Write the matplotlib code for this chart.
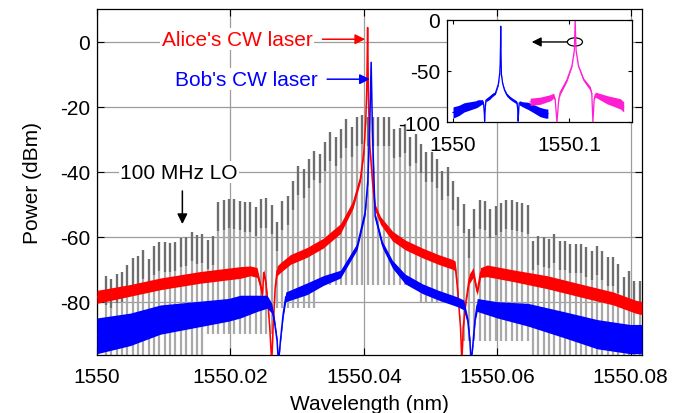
import numpy as np
import matplotlib
matplotlib.use('Agg')
import matplotlib.pyplot as plt
from matplotlib.patches import Ellipse

# ---- data ----
base_wl = 1550.0

# 100 MHz LO comb: line index n = -49..51 around the comb centre
comb_center = 0.04057
comb_spacing = 0.0008
comb_index = list(range(-49, 52))
comb_peak = [
    -72, -73, -71.5, -71, -68.7, -66.6, -66, -64, -66.8, -62.8,
    -61.5, -61.7, -62, -61.5, -60.4, -60, -58.5, -59.5, -59.2, -61,
    -59.7, -49.3, -48.8, -48.3, -48.5, -49, -49.4, -49.4, -50.9, -48.4,
    -48.2, -50.3, -55.5, -49, -47.5, -42.8, -38.2, -39.2, -36.1, -33.5,
    -34.5, -30.9, -27.8, -29.3, -26.9, -23.8, -26.3, -23, -22.5, -23,
    -23, -23.2, -23.2, -23.2, -26.9, -26.6, -25.3, -29.3, -28.3, -31.5,
    -34, -34, -36.1, -39.7, -38.6, -42.8, -47.8, -49.9, -57.6, -51.5,
    -48.6, -48.9, -51.5, -50.5, -49.6, -48.6, -48.8, -49.2, -49.6, -50.3,
    -61.2, -59.7, -60.2, -60.7, -59.2, -61.2, -61.2, -62.2, -62.2, -62.2,
    -63.3, -64.3, -62.8, -64.3, -66.3, -66.3, -68.4, -72.4, -70.4, -73.5,
    -73.5]
comb_floor = ([-97] * 19 + [-90] * 13 + [-82] * 8 + [-75] * 19 + [-80] * 8
              + [-92] * 13 + [-97] * 21)

# Alice's CW laser (red): wavelength offset, mid level, noise half-width
red_wl = [0.0000, 0.0050, 0.0095, 0.0155, 0.0215, 0.0230, 0.0240, 0.0245, 0.0248, 0.0250,
          0.0253, 0.0256, 0.0259, 0.0262, 0.0264, 0.0267, 0.0270, 0.0275, 0.0290, 0.0315,
          0.0339, 0.0365, 0.0384, 0.0395, 0.0400, 0.0403, 0.04045, 0.04057, 0.0407, 0.0409,
          0.0413, 0.0417, 0.0425, 0.0443, 0.0462, 0.0488, 0.0512, 0.0533, 0.0537, 0.0540,
          0.0542, 0.0545, 0.0547, 0.0549, 0.0553, 0.0558, 0.0564, 0.0570, 0.0575, 0.0585,
          0.0624, 0.0675, 0.0724, 0.0774, 0.0807, 0.0817]
red_mid = [-78.5, -76.5, -74.5, -72.5, -71.0, -70.5, -71.0, -75.0, -78.0, -71.0,
           -74.0, -80.0, -88.0, -99.0, -88.0, -76.0, -70.5, -69.5, -67.0, -64.8,
           -62.0, -57.5, -50.0, -42.0, -34.0, -24.0, -14.0, 4.4, -18.0, -32.0,
           -43.0, -51.0, -55.0, -59.8, -62.5, -65.0, -67.0, -68.5, -69.0, -75.0,
           -80.0, -88.0, -99.0, -88.0, -80.0, -73.0, -71.0, -77.0, -71.0, -70.5,
           -72.0, -74.0, -76.5, -79.0, -81.5, -82.0]
red_half = [2.0, 1.8, 1.8, 1.8, 1.8, 1.5, 1.5, 1.0, 1.0, 1.0,
            1.0, 0.8, 0.5, 0.5, 0.5, 0.8, 1.5, 1.5, 1.5, 1.5,
            1.5, 1.5, 1.2, 1.0, 0.8, 0.5, 0.3, 0.0, 0.3, 0.5,
            0.8, 1.0, 1.2, 1.5, 1.5, 1.5, 1.5, 1.5, 1.5, 1.0,
            0.8, 0.5, 0.5, 0.5, 0.8, 1.5, 1.5, 1.0, 1.5, 1.8,
            1.8, 2.0, 2.0, 2.0, 2.0, 2.0]

# Bob's CW laser (blue)
blue_wl = [0.0000, 0.0050, 0.0095, 0.0146, 0.0197, 0.0215, 0.0240, 0.0255, 0.0262, 0.0266,
           0.0270, 0.0272, 0.0275, 0.0279, 0.0283, 0.0315, 0.0339, 0.0365, 0.0390, 0.0402,
           0.0406, 0.0409, 0.0411, 0.0413, 0.0417, 0.0428, 0.0443, 0.0462, 0.0488, 0.0512,
           0.0540, 0.0550, 0.0556, 0.0559, 0.0561, 0.0564, 0.0567, 0.0570, 0.0600, 0.0646,
           0.0699, 0.0750, 0.0799, 0.0817]
blue_mid = [-90.5, -88.5, -85.5, -84.0, -82.5, -81.5, -80.5, -80.0, -82.0, -86.0,
            -92.0, -99.0, -92.0, -84.0, -78.5, -76.0, -73.5, -71.5, -63.0, -52.5,
            -43.0, -25.0, -6.3, -28.0, -53.7, -62.5, -68.5, -73.0, -76.0, -78.0,
            -80.0, -81.0, -86.0, -92.0, -99.0, -92.0, -85.0, -81.0, -82.5, -84.0,
            -87.0, -90.0, -91.5, -91.5]
blue_half = [5.5, 5.0, 4.5, 4.0, 3.5, 3.5, 2.5, 2.0, 1.5, 1.0,
             0.8, 0.5, 0.8, 1.0, 1.5, 1.8, 1.5, 1.2, 1.0, 1.0,
             0.7, 0.4, 0.0, 0.4, 1.0, 1.0, 1.2, 1.5, 1.5, 1.5,
             1.5, 1.5, 1.0, 0.8, 0.5, 0.8, 1.0, 2.0, 2.5, 3.5,
             4.0, 4.5, 4.5, 4.5]

# inset: second (magenta) spectrum
mag_wl = [0.0664, 0.0750, 0.0840, 0.0866, 0.0880, 0.0895, 0.0910, 0.0923, 0.0980, 0.1024,
          0.1045, 0.1052, 0.1060, 0.1080, 0.1125, 0.1182, 0.1195, 0.1205, 0.1215, 0.1225,
          0.1326, 0.1441, 0.1470]
mag_mid = [-80, -79, -76, -74, -78, -100, -78, -71, -59, -45,
           -30, 0, -30, -45, -58.5, -67, -72, -100, -78, -73,
           -78, -82, -85]
mag_half = [3.5, 3.5, 3, 2.5, 1, 0, 1, 2, 1.5, 1,
            0.5, 0, 0.5, 1, 1.5, 2, 1, 0, 1, 2.5,
            4, 5, 5]

xticks = [1550.0, 1550.02, 1550.04, 1550.06, 1550.08]
xtick_labels = ['1550', '1550.02', '1550.04', '1550.06', '1550.08']
yticks = [0, -20, -40, -60, -80]
inset_xticks = [1550.0, 1550.1]
inset_xtick_labels = ['1550', '1550.1']
inset_yticks = [0, -50, -100]

# ---- plotting ----
plt.rcParams['font.family'] = ['Liberation Sans', 'DejaVu Sans']
plt.rcParams['font.size'] = 15
plt.rcParams['axes.unicode_minus'] = False

fig = plt.figure(figsize=(6.82, 4.14), dpi=100)
ax = fig.add_axes([0.1422, 0.1401, 0.7991, 0.8357])

comb_x = base_wl + comb_center + comb_spacing * np.array(comb_index)
peaks = np.array(comb_peak)
ax.vlines(comb_x, comb_floor, peaks, color='#a9a9a9', lw=1.6, zorder=2)
ax.vlines(comb_x, peaks - 9, peaks, color='#6e6e6e', lw=1.6, zorder=2)

rx = base_wl + np.array(red_wl)
rm, rh = np.array(red_mid), np.array(red_half)
ax.fill_between(rx, rm - rh, rm + rh, color='red', lw=0, zorder=3)
ax.plot(rx, rm, color='red', lw=1.1, zorder=3)

bx = base_wl + np.array(blue_wl)
bm, bh = np.array(blue_mid), np.array(blue_half)
ax.fill_between(bx, bm - bh, bm + bh, color='blue', lw=0, zorder=4)
ax.plot(bx, bm, color='blue', lw=1.1, zorder=4)

ax.set_xlim(1550.0, 1550.0817)
ax.set_ylim(-96.4, 10.1)
ax.set_xticks(xticks)
ax.set_xticklabels(xtick_labels)
ax.set_yticks(yticks)
ax.set_yticklabels([str(v) for v in yticks])
ax.tick_params(direction='in', top=True, right=True, length=5, width=0.8)
ax.tick_params(axis='x', pad=9)
ax.tick_params(axis='y', pad=5)
ax.grid(True, color='#9c9c9c', lw=0.9)
ax.set_axisbelow(True)
for s in ax.spines.values():
    s.set_linewidth(0.9)

ax.set_xlabel('Wavelength (nm)')
ax.set_ylabel('Power (dBm)')
ax.xaxis.set_label_coords(0.50, -0.112)
ax.yaxis.set_label_coords(-0.100, 0.5)

# annotations
white_box = dict(facecolor='white', edgecolor='none', pad=1)
ax.text(1550.03228, 0.8, "Alice's CW laser", color='red', ha='right', va='center',
        bbox=white_box, zorder=6)
ax.annotate('', xy=(1550.0402, 0.8), xytext=(1550.0338, 0.8),
            arrowprops=dict(arrowstyle='-|>', color='red', lw=1.1, mutation_scale=15,
                            shrinkA=0, shrinkB=0), zorder=6)
ax.text(1550.03303, -11.5, "Bob's CW laser", color='blue', ha='right', va='center',
        bbox=white_box, zorder=6)
ax.annotate('', xy=(1550.0409, -11.5), xytext=(1550.0345, -11.5),
            arrowprops=dict(arrowstyle='-|>', color='blue', lw=1.1, mutation_scale=15,
                            shrinkA=0, shrinkB=0), zorder=6)
ax.text(1550.0035, -40.1, '100 MHz LO', color='black', ha='left', va='center',
        bbox=white_box, zorder=6)
ax.annotate('', xy=(1550.0128, -56.1), xytext=(1550.0128, -45.9),
            arrowprops=dict(arrowstyle='-|>', color='black', lw=1.1, mutation_scale=15,
                            shrinkA=0, shrinkB=0), zorder=6)

# inset
axin = fig.add_axes([0.6554, 0.7022, 0.2717, 0.2478])
axin.fill_between(bx, bm - bh, bm + bh, color='blue', lw=0)
axin.plot(bx, bm, color='blue', lw=0.9)
mx = base_wl + np.array(mag_wl)
mm, mh = np.array(mag_mid), np.array(mag_half)
axin.fill_between(mx, mm - mh, mm + mh, color='#ff1fd2', lw=0)
axin.plot(mx, mm, color='#ff1fd2', lw=0.9)
axin.add_patch(Ellipse((1550.105, -21.7), 0.013, 8, fill=False, edgecolor='black', lw=0.9))
axin.annotate('', xy=(1550.0678, -21.7), xytext=(1550.0985, -21.7),
              arrowprops=dict(arrowstyle='-|>', color='black', lw=1.0, mutation_scale=14,
                              shrinkA=0, shrinkB=0))
axin.set_xlim(1549.9948, 1550.1544)
axin.set_ylim(-100, 0)
axin.set_xticks(inset_xticks)
axin.set_xticklabels(inset_xtick_labels)
axin.set_yticks(inset_yticks)
axin.set_yticklabels([str(v) for v in inset_yticks])
axin.tick_params(direction='in', top=True, right=True, length=3, width=0.8, pad=5)
axin.tick_params(axis='x', pad=9)
for s in axin.spines.values():
    s.set_linewidth(0.9)

fig.savefig('out.png', dpi=100)
